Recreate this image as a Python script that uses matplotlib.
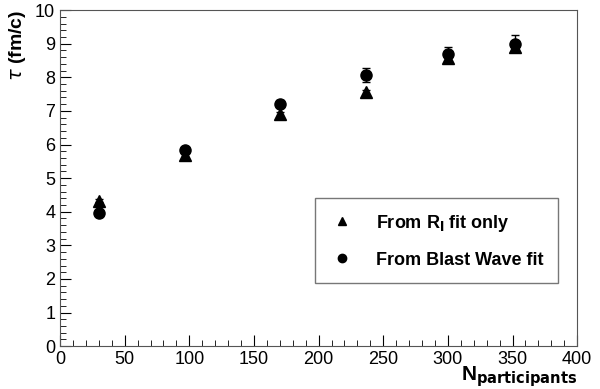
import numpy as np
import matplotlib.pyplot as plt
from matplotlib.ticker import MultipleLocator
from matplotlib.lines import Line2D

plt.rcParams['font.family'] = ['Liberation Sans', 'DejaVu Sans']

# centrality bins (number of participants)
npart = [30, 97, 170, 237, 300, 352]

# tau from R_l fit only
tau_rl = [4.33, 5.70, 6.90, 7.55, 8.58, 8.90]
err_rl = [0.05, 0.06, 0.07, 0.08, 0.10, 0.12]

# tau from blast wave fit
tau_bw = [3.97, 5.85, 7.22, 8.07, 8.68, 9.00]
err_bw = [0.06, 0.08, 0.10, 0.20, 0.22, 0.26]

fig = plt.figure(figsize=(6, 3.89), dpi=100)
ax = fig.add_axes([0.1, 0.11, 0.862, 0.864])

ax.errorbar(npart, tau_rl, yerr=err_rl, fmt='^', color='black', ms=8,
            capsize=3, elinewidth=1)
ax.errorbar(npart, tau_bw, yerr=err_bw, fmt='o', color='black', ms=8,
            capsize=3, elinewidth=1)

ax.set_xlim(0, 400)
ax.set_ylim(0, 10)
ax.xaxis.set_major_locator(MultipleLocator(50))
ax.xaxis.set_minor_locator(MultipleLocator(10))
ax.yaxis.set_major_locator(MultipleLocator(1))
ax.yaxis.set_minor_locator(MultipleLocator(0.2))
ax.tick_params(which='both', direction='in', top=False, right=False, labelsize=13)
ax.tick_params(which='major', length=8)
ax.tick_params(which='minor', length=4)
for s in ax.spines.values():
    s.set_color('#555555')

fig.text(0.03, 0.975, r'$\tau$ (fm/c)', rotation=90, ha='center', va='top',
         fontsize=14, fontweight='bold')
fig.text(0.962, 0.0, r'N$_{\mathbf{participants}}$', ha='right', va='bottom',
         fontsize=15, fontweight='bold')

handles = [Line2D([], [], ls='none', marker='^', color='black', ms=6),
           Line2D([], [], ls='none', marker='o', color='black', ms=6)]
labels = [r'From R$_{\mathbf{l}}$ fit only', 'From Blast Wave fit']
ax.legend(handles, labels, loc='lower right', bbox_to_anchor=(0.963, 0.1875),
          borderaxespad=0, fancybox=False, edgecolor='#555555',
          prop={'weight': 'bold', 'size': 13}, handletextpad=1.2,
          borderpad=0.8, labelspacing=1.0, handlelength=1.4)

fig.savefig('out.png', dpi=100)
